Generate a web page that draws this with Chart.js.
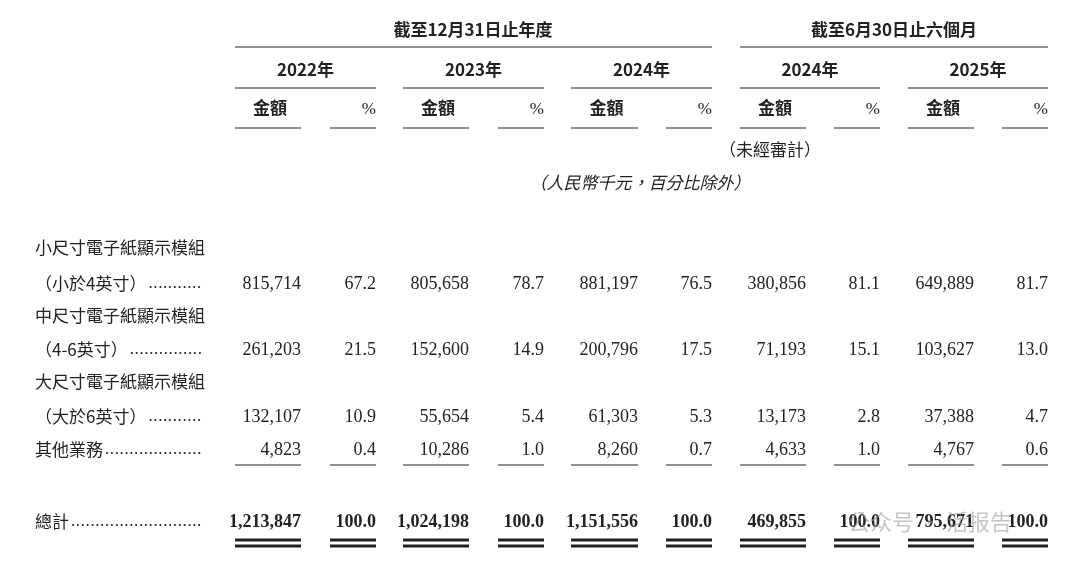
<!DOCTYPE html>
<html><head><meta charset="utf-8">
<script src="https://cdn.jsdelivr.net/npm/chart.js@4/dist/chart.umd.min.js"></script>
<style>html,body{margin:0;padding:0;background:#fff}#w{width:1080px;height:568px}</style>
</head><body><div id="w"><canvas id="c"></canvas></div>
<script>
const periods = ["2022年","2023年","2024年","2024年","2025年"];
const groupHeaders = ["截至12月31日止年度","截至6月30日止六個月"];
const categories = [["小尺寸電子紙顯示模組","（小於4英寸）"],["中尺寸電子紙顯示模組","（4-6英寸）"],["大尺寸電子紙顯示模組","（大於6英寸）"],["其他業務"]];
const totalLabel = "總計";
const amounts = [
  [815714,805658,881197,380856,649889],
  [261203,152600,200796,71193,103627],
  [132107,55654,61303,13173,37388],
  [4823,10286,8260,4633,4767]];
const percents = [
  [67.2,78.7,76.5,81.1,81.7],
  [21.5,14.9,17.5,15.1,13.0],
  [10.9,5.4,5.3,2.8,4.7],
  [0.4,1.0,0.7,1.0,0.6]];
const totals = [1213847,1024198,1151556,469855,795671];
const totalPct = [100.0,100.0,100.0,100.0,100.0];

// layout
const colAmtRight=[301,469,638,806,974], colPctRight=[376,544,712,880,1048], colLeft=[235,403,571,740,908];
const rowY=[284,350,417,450], labelY=[[248,284],[316,350],[382,417],[450]];
const SERIF='"Liberation Serif","Noto Sans CJK TC",serif', CJK='"Noto Sans CJK TC",sans-serif';
const fmt=v=>v.toLocaleString('en-US');

const tablePlugin={id:'table',afterDraw(ch){
  const c=ch.ctx,X=v=>ch.scales.x.getPixelForValue(v),Y=v=>ch.scales.y.getPixelForValue(v);
  c.save();c.fillStyle='#222';c.strokeStyle='#222';c.textBaseline='middle';
  const txt=(s,x,y,al,f)=>{c.font=f||('17px '+CJK);c.textAlign=al;c.fillText(s,X(x),Y(y));};
  const lab=(s,y,dots)=>{c.font='17px '+CJK;c.textAlign='left';c.fillText(s,X(35),Y(y));
    if(!dots)return;let x=X(35)+c.measureText(s).width+2;c.font='17px '+SERIF;
    const dw=c.measureText('.').width+0.6;while(x+dw<=X(206)){c.fillText('.',x,Y(y));x+=dw;}};
  const line=(x1,x2,y,w)=>{c.lineWidth=w||1.2;c.beginPath();c.moveTo(X(x1),Y(y));c.lineTo(X(x2),Y(y));c.stroke();};
  const H='600 17px '+CJK;
  txt(groupHeaders[0],473,30,'center',H);txt(groupHeaders[1],894,30,'center',H);
  line(235,712,47);line(740,1048,47);
  for(let i=0;i<5;i++){
    const mid=(colLeft[i]+colPctRight[i])/2;
    txt(periods[i],mid,70,'center',H);line(colLeft[i],colPctRight[i],88);
    txt('金額',(colLeft[i]+colAmtRight[i])/2+2,108,'center',H);txt('%',colPctRight[i],110,'right','17px '+SERIF);
    line(colLeft[i],colAmtRight[i],128);line(colPctRight[i]-46,colPctRight[i],128);
    line(colLeft[i],colAmtRight[i],465);line(colPctRight[i]-46,colPctRight[i],465);
    [540,546].forEach(y=>{line(colLeft[i],colAmtRight[i],y,3);line(colPctRight[i]-46,colPctRight[i],y,3);});
  }
  txt('（未經審計）',770,150,'center');
  txt('（人民幣千元，百分比除外）',640,183,'center','italic 17px '+CJK);
  categories.forEach((l,r)=>{l.forEach((s,k)=>lab(s,labelY[r][k],k===l.length-1));
    for(let i=0;i<5;i++){txt(fmt(amounts[r][i]),colAmtRight[i],rowY[r],'right','18px '+SERIF);
      txt(percents[r][i].toFixed(1),colPctRight[i],rowY[r],'right','18px '+SERIF);}});
  lab(totalLabel,522,true);
  for(let i=0;i<5;i++){txt(fmt(totals[i]),colAmtRight[i],522,'right','bold 18px '+SERIF);
    txt(totalPct[i].toFixed(1),colPctRight[i],522,'right','bold 18px '+SERIF);}
  c.fillStyle='rgba(150,150,150,0.55)';txt('公众号 · 活报告',930,522,'center','22px '+CJK);
  c.restore();}};

new Chart(document.getElementById('c'),{type:'scatter',
  data:{datasets:[{data:totals.map((v,i)=>({x:colAmtRight[i],y:522})),pointRadius:0}]},
  options:{responsive:true,maintainAspectRatio:false,animation:false,layout:{padding:0},
    plugins:{legend:{display:false},tooltip:{enabled:false}},
    scales:{x:{type:'linear',min:0,max:1080,display:false},y:{type:'linear',min:0,max:568,reverse:true,display:false}}},
  plugins:[tablePlugin]});
</script></body></html>
